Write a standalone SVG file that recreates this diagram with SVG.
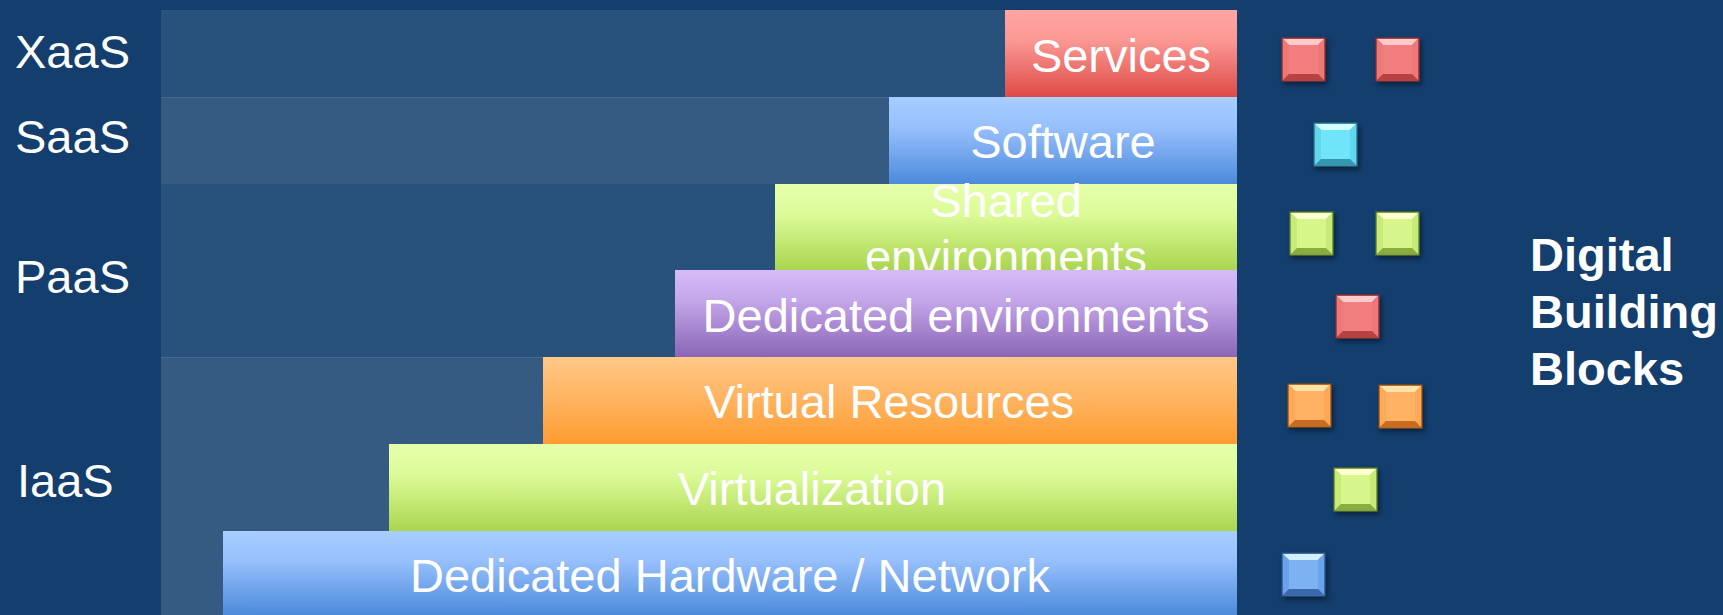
<svg xmlns="http://www.w3.org/2000/svg" width="1723" height="615" viewBox="0 0 1723 615">
<defs>
<linearGradient id="gRed" x1="0" y1="0" x2="0" y2="1"><stop offset="0" stop-color="#ffa6a4"/><stop offset="0.35" stop-color="#fb9894"/><stop offset="1" stop-color="#de4a47"/></linearGradient>
<linearGradient id="gBlue" x1="0" y1="0" x2="0" y2="1"><stop offset="0" stop-color="#a8ceff"/><stop offset="0.35" stop-color="#97c0fc"/><stop offset="1" stop-color="#4c8adb"/></linearGradient>
<linearGradient id="gGreen" x1="0" y1="0" x2="0" y2="1"><stop offset="0" stop-color="#e6ffab"/><stop offset="0.35" stop-color="#dcfb98"/><stop offset="1" stop-color="#aad54f"/></linearGradient>
<linearGradient id="gPurple" x1="0" y1="0" x2="0" y2="1"><stop offset="0" stop-color="#d5bcf8"/><stop offset="0.35" stop-color="#c4a6ea"/><stop offset="1" stop-color="#8a65b5"/></linearGradient>
<linearGradient id="gOrange" x1="0" y1="0" x2="0" y2="1"><stop offset="0" stop-color="#ffc887"/><stop offset="0.35" stop-color="#ffb96c"/><stop offset="1" stop-color="#ff9c31"/></linearGradient>
<filter id="sh" x="-30%" y="-30%" width="160%" height="160%"><feDropShadow dx="2" dy="3" stdDeviation="2.5" flood-color="#000" flood-opacity="0.45"/></filter>
<g id="blk-red"><rect x="0" y="0" width="43" height="43" fill="#e06868" stroke="#8e2c2c" stroke-width="1.2"/><polygon points="1,1 42,1 36,7 7,7" fill="#ffcaca"/><polygon points="1,1 7,7 7,36 1,42" fill="#ec7878"/><polygon points="42,1 36,7 36,36 42,42" fill="#ec7878"/><polygon points="1,42 7,36 36,36 42,42" fill="#b74242"/><rect x="7" y="7" width="29" height="29" fill="#f27f7f"/></g>
<g id="blk-cyan"><rect x="0" y="0" width="43" height="43" fill="#50c6e0" stroke="#2c6a80" stroke-width="1.2"/><polygon points="1,1 42,1 36,7 7,7" fill="#d2ffff"/><polygon points="1,1 7,7 7,36 1,42" fill="#62d6ee"/><polygon points="42,1 36,7 36,36 42,42" fill="#62d6ee"/><polygon points="1,42 7,36 36,36 42,42" fill="#3596b0"/><rect x="7" y="7" width="29" height="29" fill="#70e4f8"/></g>
<g id="blk-green"><rect x="0" y="0" width="43" height="43" fill="#b6dc62" stroke="#5d7a28" stroke-width="1.2"/><polygon points="1,1 42,1 36,7 7,7" fill="#ffffd2"/><polygon points="1,1 7,7 7,36 1,42" fill="#c8ea78"/><polygon points="42,1 36,7 36,36 42,42" fill="#c8ea78"/><polygon points="1,42 7,36 36,36 42,42" fill="#8aab3e"/><rect x="7" y="7" width="29" height="29" fill="#d6f68c"/></g>
<g id="blk-orange"><rect x="0" y="0" width="43" height="43" fill="#ff9e45" stroke="#8a4c14" stroke-width="1.2"/><polygon points="1,1 42,1 36,7 7,7" fill="#ffe2a8"/><polygon points="1,1 7,7 7,36 1,42" fill="#ffa856"/><polygon points="42,1 36,7 36,36 42,42" fill="#ffa856"/><polygon points="1,42 7,36 36,36 42,42" fill="#c96c20"/><rect x="7" y="7" width="29" height="29" fill="#ffb264"/></g>
<g id="blk-blue"><rect x="0" y="0" width="43" height="43" fill="#5c94e2" stroke="#2c4f82" stroke-width="1.2"/><polygon points="1,1 42,1 36,7 7,7" fill="#d2f0ff"/><polygon points="1,1 7,7 7,36 1,42" fill="#6aa2ec"/><polygon points="42,1 36,7 36,36 42,42" fill="#6aa2ec"/><polygon points="1,42 7,36 36,36 42,42" fill="#3a68ac"/><rect x="7" y="7" width="29" height="29" fill="#7cb2f2"/></g>
</defs>
<style>
text{font-family:"Liberation Sans",Arial,sans-serif;fill:#ffffff;font-size:47px}
.lbl{text-anchor:start}
.bar text{text-anchor:middle}
.dbb{font-weight:bold}
</style>
<rect x="0" y="0" width="1723" height="615" fill="#133e6e"/>
<g id="bands">
<rect x="161" y="10" width="1076" height="87" fill="#28527c"/>
<rect x="161" y="97" width="1076" height="87" fill="#365b82"/>
<rect x="161" y="184" width="1076" height="173" fill="#28527c"/>
<rect x="161" y="357" width="1076" height="258" fill="#365b82"/>
<line x1="161" y1="97.5" x2="1237" y2="97.5" stroke="#48698f" stroke-width="1"/>
<line x1="161" y1="357.5" x2="1237" y2="357.5" stroke="#48698f" stroke-width="1"/>
</g>
<g id="labels">
<text class="lbl" x="15" y="68">XaaS</text>
<text class="lbl" x="15" y="153">SaaS</text>
<text class="lbl" x="15" y="293">PaaS</text>
<text class="lbl" x="17" y="497">IaaS</text>
</g>
<g id="services" class="bar"><rect x="1005" y="10" width="232" height="87" fill="url(#gRed)"/><text x="1121" y="72">Services</text></g>
<g id="software" class="bar"><rect x="889" y="97" width="348" height="87" fill="url(#gBlue)"/><text x="1063" y="158">Software</text></g>
<g id="shared" class="bar"><rect x="775" y="184" width="462" height="86" fill="url(#gGreen)"/><text x="1006" y="217">Shared</text><text x="1006" y="273">environments</text></g>
<g id="dedicated-env" class="bar"><rect x="675" y="270" width="562" height="87" fill="url(#gPurple)"/><text x="956" y="332">Dedicated environments</text></g>
<g id="virtual-resources" class="bar"><rect x="543" y="357" width="694" height="87" fill="url(#gOrange)"/><text x="889" y="418">Virtual Resources</text></g>
<g id="virtualization" class="bar"><rect x="389" y="444" width="848" height="87" fill="url(#gGreen)"/><text x="812" y="505">Virtualization</text></g>
<g id="dedicated-hw" class="bar"><rect x="223" y="531" width="1014" height="84" fill="url(#gBlue)"/><text x="730" y="592">Dedicated Hardware / Network</text></g>
<g id="blocks" filter="url(#sh)">
<use href="#blk-red" x="1282" y="38"/>
<use href="#blk-red" x="1376" y="38"/>
<use href="#blk-cyan" x="1314" y="123"/>
<use href="#blk-green" x="1290" y="212"/>
<use href="#blk-green" x="1376" y="212"/>
<use href="#blk-red" x="1336" y="295"/>
<use href="#blk-orange" x="1288" y="384"/>
<use href="#blk-orange" x="1379" y="385"/>
<use href="#blk-green" x="1334" y="468"/>
<use href="#blk-blue" x="1282" y="553"/>
</g>
<g id="digital-building-blocks">
<text class="dbb" x="1530" y="271">Digital</text>
<text class="dbb" x="1530" y="328">Building</text>
<text class="dbb" x="1530" y="385">Blocks</text>
</g>
</svg>
